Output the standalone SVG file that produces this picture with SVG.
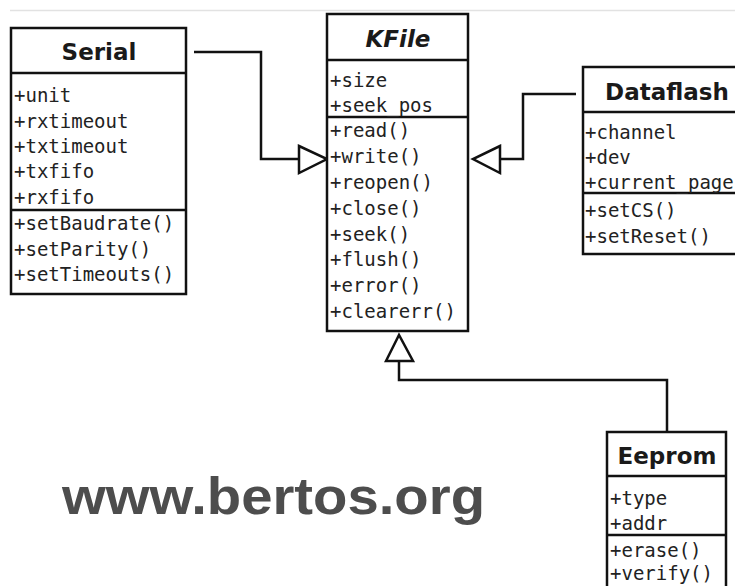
<svg xmlns="http://www.w3.org/2000/svg" width="735" height="586" viewBox="0 0 735 586">
  <style>
    .box { fill: #fff; stroke: #111; stroke-width: 2.5; }
    .sep { stroke: #111; stroke-width: 2.5; fill: none; }
    .title { font-family: "DejaVu Sans", sans-serif; font-weight: bold; font-size: 23px; fill: #1a1a1a; text-anchor: middle; }
    .member { font-family: "DejaVu Sans Mono", monospace; font-size: 19px; fill: #222; }
    .wire { fill: none; stroke: #111; stroke-width: 2.5; }
    .head { fill: #fff; stroke: #111; stroke-width: 2.5; stroke-linejoin: miter; }
  </style>
  <rect width="735" height="586" fill="#fff"/>
  <!-- thin rule along the top -->
  <line x1="10" y1="10.5" x2="735" y2="10.5" stroke="#e2e2e2" stroke-width="1.5"/>

  <!-- generalization connectors -->
  <g id="connectors">
    <polyline class="wire" points="194,52 261,52 261,159 299,159"/>
    <polygon class="head" points="299,146 327,159 299,173"/>
    <polyline class="wire" points="576,94 523,94 523,159 500,159"/>
    <polygon class="head" points="500,146 473,159 500,173"/>
    <polyline class="wire" points="667,432 667,380 399,380 399,361"/>
    <polygon class="head" points="386,361 399,335 413,361"/>
  </g>

  <g id="kfile">
    <rect class="box" x="327" y="14" width="141" height="317"/>
    <line class="sep" x1="327" y1="60" x2="468" y2="60"/>
    <line class="sep" x1="327" y1="117" x2="468" y2="117"/>
    <text class="title" x="398" y="47" font-style="italic">KFile</text>
    <text class="member" x="330" y="87">+size</text>
    <text class="member" x="330" y="112">+seek_pos</text>
    <text class="member" x="330" y="137">+read()</text>
    <text class="member" x="330" y="163">+write()</text>
    <text class="member" x="330" y="189">+reopen()</text>
    <text class="member" x="330" y="214.5">+close()</text>
    <text class="member" x="330" y="240.5">+seek()</text>
    <text class="member" x="330" y="266">+flush()</text>
    <text class="member" x="330" y="292">+error()</text>
    <text class="member" x="330" y="318">+clearerr()</text>
  </g>

  <g id="serial">
    <rect class="box" x="11" y="28" width="175" height="266"/>
    <line class="sep" x1="11" y1="73" x2="186" y2="73"/>
    <line class="sep" x1="11" y1="210" x2="186" y2="210"/>
    <text class="title" x="99" y="60">Serial</text>
    <text class="member" x="14" y="102">+unit</text>
    <text class="member" x="14" y="127.5">+rxtimeout</text>
    <text class="member" x="14" y="153">+txtimeout</text>
    <text class="member" x="14" y="178">+txfifo</text>
    <text class="member" x="14" y="204">+rxfifo</text>
    <text class="member" x="14" y="230">+setBaudrate()</text>
    <text class="member" x="14" y="255.5">+setParity()</text>
    <text class="member" x="14" y="281">+setTimeouts()</text>
  </g>

  <g id="dataflash">
    <rect class="box" x="583" y="67" width="170" height="187"/>
    <line class="sep" x1="583" y1="112" x2="753" y2="112"/>
    <line class="sep" x1="583" y1="193" x2="753" y2="193"/>
    <text class="title" x="667" y="100">Dataflash</text>
    <text class="member" x="585" y="139">+channel</text>
    <text class="member" x="585" y="164">+dev</text>
    <text class="member" x="585" y="189">+current_page</text>
    <text class="member" x="585" y="217">+setCS()</text>
    <text class="member" x="585" y="243">+setReset()</text>
  </g>

  <g id="eeprom">
    <rect class="box" x="607" y="432" width="119" height="170"/>
    <line class="sep" x1="607" y1="476" x2="726" y2="476"/>
    <line class="sep" x1="607" y1="535" x2="726" y2="535"/>
    <text class="title" x="667" y="464">Eeprom</text>
    <text class="member" x="610" y="505">+type</text>
    <text class="member" x="610" y="530">+addr</text>
    <text class="member" x="610" y="557">+erase()</text>
    <text class="member" x="610" y="580">+verify()</text>
  </g>

  <text x="62" y="514" font-family="Liberation Sans, Arial, sans-serif" font-weight="bold" font-size="52" fill="#4d4d4d" textLength="423" lengthAdjust="spacingAndGlyphs">www.bertos.org</text>
</svg>
